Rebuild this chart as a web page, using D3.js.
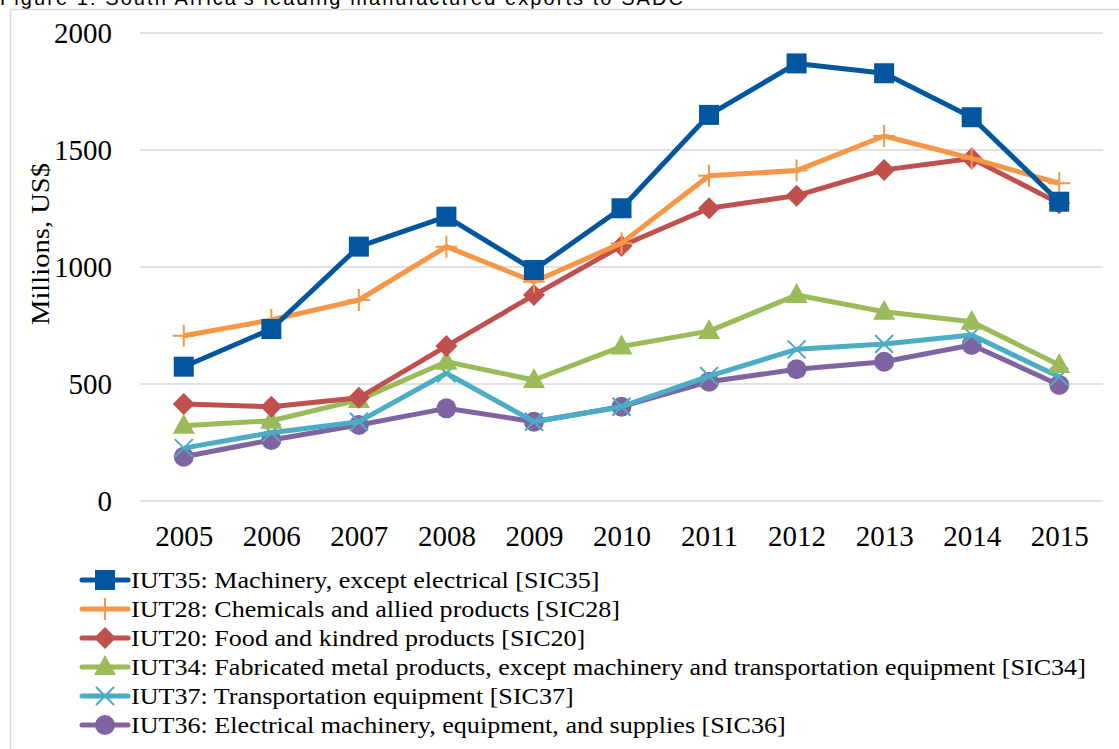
<!DOCTYPE html>
<html>
<head>
<meta charset="utf-8">
<script src="https://cdn.jsdelivr.net/npm/d3@7"></script>
<style>
  body { margin: 0; background: #fff; }
  svg { display: block; }
</style>
</head>
<body>
<div id="chart"></div>
<script>
const years = ["2005","2006","2007","2008","2009","2010","2011","2012","2013","2014","2015"];
const yTicks = [0, 500, 1000, 1500, 2000];

const iut35 = [574, 735, 1087, 1215, 987, 1251, 1650, 1870, 1828, 1640, 1279];
const iut28 = [706, 774, 859, 1087, 937, 1102, 1390, 1412, 1560, 1464, 1358];
const iut20 = [415, 403, 441, 662, 880, 1090, 1251, 1305, 1415, 1464, 1272];
const iut34 = [322, 343, 432, 595, 517, 660, 726, 880, 809, 766, 581];
const iut37 = [226, 292, 339, 546, 339, 403, 534, 648, 671, 709, 531];
const iut36 = [189, 261, 325, 396, 339, 403, 510, 563, 595, 667, 496];

const seriesNames = [
  "IUT35: Machinery, except electrical [SIC35]",
  "IUT28: Chemicals and allied products [SIC28]",
  "IUT20: Food and kindred products [SIC20]",
  "IUT34: Fabricated metal products, except machinery and transportation equipment [SIC34]",
  "IUT37: Transportation equipment [SIC37]",
  "IUT36: Electrical machinery, equipment, and supplies [SIC36]"
];
const seriesColors = ["#02569F", "#F79646", "#C0504D", "#9BBB59", "#4BACC6", "#8064A2"];
const seriesMarkers = ["square", "plus", "diamond", "triangle", "cross", "circle"];

const series = [iut35, iut28, iut20, iut34, iut37, iut36].map((vals, i) => ({
  name: seriesNames[i], color: seriesColors[i], marker: seriesMarkers[i], values: vals
}));

const width = 1119, height = 749;
const plot = { left: 140, right: 1103, top: 33, bottom: 501 };
const serif = "'Liberation Serif', 'Times New Roman', serif";

const svg = d3.select("#chart").append("svg")
  .attr("width", width).attr("height", height);

// caption above the frame, cut off at the top edge like the source
svg.append("text")
  .attr("x", 0).attr("y", 5)
  .attr("font-family", "'Liberation Sans', Arial, sans-serif")
  .attr("font-size", 20)
  .attr("fill", "#000")
  .attr("textLength", 683)
  .text("Figure 1: South Africa's leading manufactured exports to SADC");

svg.append("rect")
  .attr("x", 10.5).attr("y", 9.5)
  .attr("width", 1200).attr("height", 800)
  .attr("fill", "#fff").attr("stroke", "#D9D9D9").attr("stroke-width", 1.5);

const x = d3.scalePoint().domain(years).range([plot.left, plot.right]).padding(0.5);
const y = d3.scaleLinear().domain([0, 2000]).range([plot.bottom, plot.top]);

// gridlines
svg.append("g")
  .selectAll("line").data(yTicks).join("line")
  .attr("x1", plot.left).attr("x2", plot.right)
  .attr("y1", d => y(d)).attr("y2", d => y(d))
  .attr("stroke", "#D9D9D9").attr("stroke-width", 1.5);

// y axis labels
const yAxis = svg.append("g")
  .attr("transform", `translate(${plot.left},0)`)
  .call(d3.axisLeft(y).tickValues(yTicks).tickFormat(d3.format("d")).tickSize(0).tickPadding(28));
yAxis.select(".domain").remove();
yAxis.selectAll("text")
  .attr("font-family", serif).attr("font-size", 29).attr("fill", "#000")
  .attr("dy", "0.33em");

// x axis labels
const xAxis = svg.append("g")
  .attr("transform", `translate(0,${plot.bottom})`)
  .call(d3.axisBottom(x).tickSize(0).tickPadding(24));
xAxis.select(".domain").remove();
xAxis.selectAll("text")
  .attr("font-family", serif).attr("font-size", 29).attr("fill", "#000");

// y title
svg.append("text")
  .attr("transform", `translate(49,244) rotate(-90)`)
  .attr("text-anchor", "middle")
  .attr("font-family", serif).attr("font-size", 26).attr("fill", "#000")
  .attr("textLength", 162).attr("lengthAdjust", "spacingAndGlyphs")
  .text("Millions, US$");

function drawMarker(g, type, color, cx, cy) {
  const s = 10;
  switch (type) {
    case "square":
      g.append("rect").attr("x", cx - s).attr("y", cy - s)
        .attr("width", 2 * s).attr("height", 2 * s).attr("fill", color);
      break;
    case "diamond":
      g.append("path").attr("d", `M${cx},${cy - 11}L${cx + 11},${cy}L${cx},${cy + 11}L${cx - 11},${cy}Z`)
        .attr("fill", color);
      break;
    case "triangle":
      g.append("path").attr("d", `M${cx},${cy - 12}L${cx + 11},${cy + 8}L${cx - 11},${cy + 8}Z`)
        .attr("fill", color);
      break;
    case "circle":
      g.append("circle").attr("cx", cx).attr("cy", cy).attr("r", 10).attr("fill", color);
      break;
    case "plus":
      g.append("path").attr("d", `M${cx - 11},${cy}H${cx + 11}M${cx},${cy - 11}V${cy + 11}`)
        .attr("stroke", color).attr("stroke-width", 2).attr("fill", "none");
      break;
    case "cross":
      g.append("path").attr("d", `M${cx - 9},${cy - 9}L${cx + 9},${cy + 9}M${cx + 9},${cy - 9}L${cx - 9},${cy + 9}`)
        .attr("stroke", color).attr("stroke-width", 2).attr("fill", "none");
      break;
  }
}

const line = d3.line().x((d, i) => x(years[i])).y(d => y(d));

// draw series in reverse so the first one ends up on top
series.slice().reverse().forEach(s => {
  const g = svg.append("g");
  g.append("path").datum(s.values)
    .attr("d", line)
    .attr("fill", "none")
    .attr("stroke", s.color)
    .attr("stroke-width", 5)
    .attr("stroke-linejoin", "round");
  s.values.forEach((v, i) => drawMarker(g, s.marker, s.color, x(years[i]), y(v)));
});

// legend
const legend = svg.append("g");
series.forEach((s, i) => {
  const ly = 580 + i * 29;
  const g = legend.append("g");
  g.append("line")
    .attr("x1", 82).attr("x2", 128).attr("y1", ly).attr("y2", ly)
    .attr("stroke", s.color).attr("stroke-width", 5).attr("stroke-linecap", "round");
  drawMarker(g, s.marker, s.color, 105, ly);
  const t = g.append("text")
    .attr("x", 131).attr("y", ly + 8)
    .attr("font-family", serif).attr("font-size", 24).attr("fill", "#000")
    .text(s.name);
  // widen a bit to match the Garamond-style face of the source
  const w = t.node().getComputedTextLength();
  t.attr("textLength", w * 1.087).attr("lengthAdjust", "spacingAndGlyphs");
});
</script>
</body>
</html>
